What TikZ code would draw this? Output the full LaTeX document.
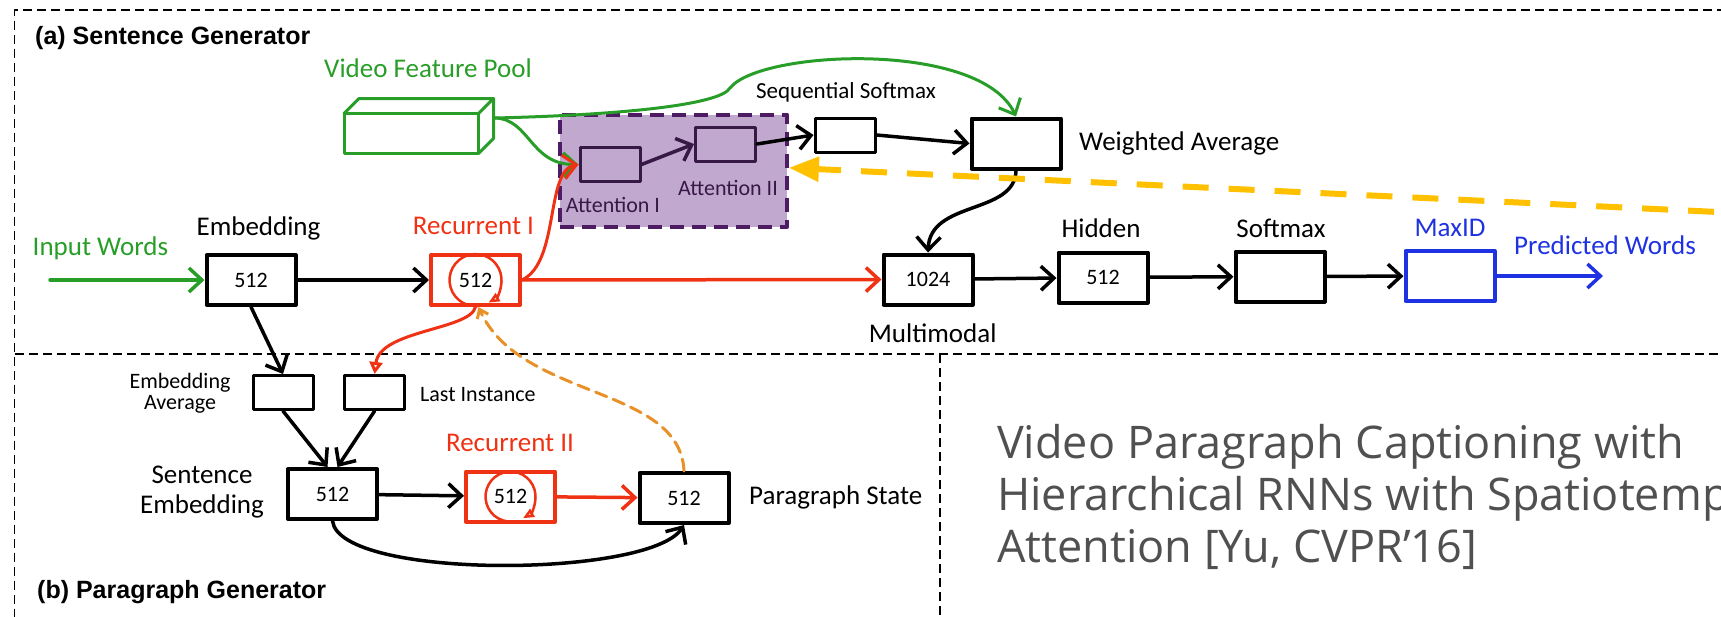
\documentclass[tikz,border=0pt]{standalone}
\usepackage{fontspec}
\usetikzlibrary{arrows.meta}
\newfontfamily\carlito{Carlito}
\newfontfamily\arialfont{Liberation Sans}
\newfontfamily\opensans{Open Sans}
\definecolor{vgreen}{RGB}{40,158,40}
\definecolor{vred}{RGB}{240,50,20}
\definecolor{vblue}{RGB}{30,50,225}
\definecolor{vorange}{RGB}{232,145,40}
\definecolor{vyellow}{RGB}{255,192,0}
\definecolor{attfill}{RGB}{193,168,207}
\definecolor{attline}{RGB}{78,28,98}
\definecolor{attdark}{RGB}{55,25,70}
\definecolor{titlegray}{RGB}{80,80,80}

\begin{document}
\begin{tikzpicture}[x=1pt,y=-1pt,line cap=round,line join=round,
  lab/.style={inner sep=0pt,font=\carlito\fontsize{27}{30}\selectfont},
  slab/.style={inner sep=0pt,font=\carlito\fontsize{22}{21}\selectfont},
  head/.style={inner sep=0pt,anchor=west,font=\arialfont\bfseries\fontsize{25}{30}\selectfont},
  ttl/.style={inner sep=0pt,anchor=base west,text=titlegray,font=\opensans\fontsize{45}{52}\selectfont},
  unit/.style={draw,line width=4pt,minimum width=89pt,minimum height=50pt,inner sep=0pt,font=\carlito\fontsize{22}{24}\selectfont},
  cell/.style={draw,line width=3pt,minimum width=60pt,minimum height=34pt,inner sep=0pt},
  arr/.style={line width=3.5pt,-{Straight Barb[length=13pt,width=24pt]}},
  recloop/.style={vred,line width=2.5pt,-{Triangle[open,length=11pt,width=9pt]}},
  frame/.style={line width=1.6pt,dash pattern=on 9pt off 5pt,line cap=butt}]
  \useasboundingbox (0,0) rectangle (1721,616);
  \clip (0,0) rectangle (1721,616);
  \draw[frame] (1740,10) -| (14.5,640);
  \draw[frame] (14.5,354) -- (1740,354);
  \draw[frame] (940,354) -- (940,640);
  \node[head] (secA) at (35,38) {(a) Sentence Generator};
  \node[head] (secB) at (37,592) {(b) Paragraph Generator};

  \node[draw=vgreen,line width=3pt,outer sep=0pt,minimum width=134.5pt,minimum height=40pt] (pool) at (411.25,133.5) {};
  \draw[vgreen,line width=3pt] (pool.north west) -- ++(15,-15) -| ([shift={(15,-15)}]pool.south east) -- (pool.south east) (pool.north east) -- ++(15,-15);
  \coordinate (poolout) at (495,118);
  \node[draw=attline,fill=attfill,line width=4pt,dash pattern=on 14pt off 8pt,line cap=butt,minimum width=227pt,minimum height=112.5pt] (attn) at (673.4,170.75) {};

  \node[unit] (emb) at (251,280) {512};
  \node[unit,draw=vred] (rec1) at (475.5,280) {512};
  \node[unit] (mm) at (928,279.5) {1024};
  \node[unit] (hid) at (1103,277.5) {512};
  \node[unit] (smx) at (1280,276.5) {};
  \node[unit,draw=vblue] (maxid) at (1450,276) {};
  \node[cell,draw=attdark] (att1) at (610,164.5) {};
  \node[cell,draw=attdark] (att2) at (725.5,144) {};
  \node[cell] (seq) at (845,135) {};
  \node[unit] (wavg) at (1016,143.5) {};
  \node[cell] (eavg) at (283,392.5) {};
  \node[cell] (last) at (374.6,392.5) {};
  \node[unit] (semb) at (332.5,494) {512};
  \node[unit,draw=vred] (rec2) at (510.5,496.5) {512};
  \node[unit] (pstate) at (684,498) {512};
  \coordinate (inwstart) at (50,280);
  \coordinate (predend) at (1603,276);
  \coordinate (fbstart) at (1760,214);

  \draw[recloop] (rec1.center) ++(2.3,26) arc[start angle=-275,end angle=60,radius=26];
  \draw[recloop] (rec2.center) ++(2.2,25) arc[start angle=-275,end angle=60,radius=25];

  \draw[vgreen,arr] (inwstart) -- (emb);
  \draw[arr] (emb) -- (rec1);
  \draw[vgreen,arr,line width=3pt] (poolout) .. controls (620,115) and (720,105) .. (730,88) .. controls (760,50) and (980,40) .. (wavg.north);
  \draw[vgreen,arr,line width=3pt] (poolout) .. controls (530,119) and (530,165) .. (att1.west);
  \draw[vred,arr,line width=3pt] (rec1.east) .. controls (560,262) and (545,170) .. (att1.west);
  \draw[vred,arr] (rec1) -- (mm);
  \draw[attdark,arr] (att1.east) -- (att2.west);
  \draw[arr] (att2.east) -- (seq.west);
  \draw[arr] (seq.east) -- (wavg.west);
  \draw[arr] (wavg.south) .. controls (1015,215) and (930,200) .. (mm.north);
  \draw[arr] (mm) -- (hid);
  \draw[arr] (hid) -- (smx);
  \draw[arr] (smx) -- (maxid);
  \draw[vblue,arr] (maxid) -- (predend);
  \draw[arr] (emb.south) -- (eavg.north);
  \draw[vred,line width=3pt,-{Triangle[open,length=12pt,width=13pt]}] (rec1.south) .. controls (470,330) and (380,330) .. (last.north);
  \draw[arr] (eavg.south) -- ([xshift=-5pt]semb.north);
  \draw[arr] (last.south) -- ([xshift=5pt]semb.north);
  \draw[arr] (semb) -- (rec2);
  \draw[vred,arr] (rec2) -- (pstate);
  \draw[arr] (semb.south) .. controls (340,580) and (650,578) .. (pstate.south);
  \draw[vorange,line width=3pt,dash pattern=on 12pt off 7pt,-{Straight Barb[length=8pt,width=12pt]}] (pstate.north) .. controls (680,385) and (520,400) .. ([xshift=3pt]rec1.south);

  \node[lab,vgreen,anchor=west] (vfpl) at (324,68) {Video Feature Pool};
  \node[lab,vgreen,anchor=west] (inwl) at (32.5,248) {Input Words};
  \node[lab] (embl) at (258.5,228) {Embedding};
  \node[lab,vred] (rec1l) at (473.5,226) {Recurrent I};
  \node[lab,font=\carlito\fontsize{23}{26}\selectfont] (seql) at (846,92) {Sequential Softmax};
  \node[lab,anchor=west] (wavgl) at (1079,143) {Weighted Average};
  \node[slab,attdark] (att1l) at (613,205) {Attention I};
  \node[slab,attdark] (att2l) at (728,188) {Attention II};
  \node[lab] (mml) at (932.7,333) {Multimodal};
  \node[lab] (hidl) at (1101,228) {Hidden};
  \node[lab] (smxl) at (1281,228) {Softmax};
  \node[lab,vblue] (maxidl) at (1450,228) {MaxID};
  \node[lab,vblue,anchor=west] (predl) at (1514,245) {Predicted Words};
  \node[slab,align=center] (eavgl) at (180,393) {Embedding\\Average};
  \node[slab,anchor=west] (lastl) at (420,395) {Last Instance};
  \node[lab,align=center] (sembl) at (202,492) {Sentence\\Embedding};
  \node[lab,vred] (rec2l) at (510,443) {Recurrent II};
  \node[lab,anchor=west] (pstatel) at (749,497) {Paragraph State};
  \node[ttl] (ttl1) at (997,458) {Video Paragraph Captioning with};
  \node[ttl] (ttl2) at (997,510) {Hierarchical RNNs with Spatiotemporal};
  \node[ttl] (ttl3) at (997,562) {Attention [Yu, CVPR’16]};

  \draw[vyellow,line width=6pt,dash pattern=on 26pt off 20pt,line cap=butt,-{Triangle[length=30pt,width=24pt]}] (fbstart) -- ([yshift=3pt]attn.east);
\end{tikzpicture}
\end{document}
